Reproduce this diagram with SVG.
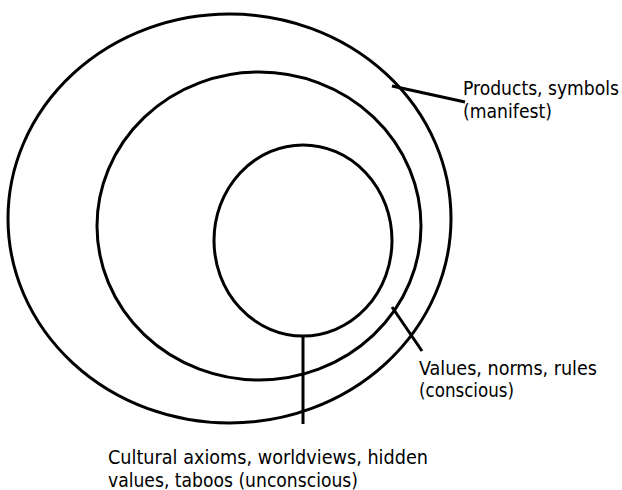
<svg xmlns="http://www.w3.org/2000/svg" width="622" height="490" viewBox="0 0 622 490">
<style>
.ring{fill:none;stroke:#000;stroke-width:3}
.conn{stroke:#000;stroke-width:3;fill:none}
.lbl{font-family:"DejaVu Sans Condensed","DejaVu Sans",sans-serif;font-size:19px;fill:#000}
</style>
<rect width="622" height="490" fill="#fff"/>
<g id="outer"><ellipse class="ring" cx="229.5" cy="218.5" rx="221.5" ry="204.5"/></g>
<g id="middle"><ellipse class="ring" cx="259" cy="226" rx="162" ry="154"/></g>
<g id="inner"><ellipse class="ring" cx="303" cy="240.5" rx="89" ry="95.5"/></g>
<g id="connectors">
<line class="conn" x1="392" y1="86" x2="465" y2="102"/>
<line class="conn" x1="392" y1="307" x2="422" y2="351"/>
<line class="conn" x1="303" y1="337" x2="303" y2="424"/>
</g>
<g id="label-products">
<text class="lbl" x="463" y="95" textLength="156" lengthAdjust="spacingAndGlyphs">Products, symbols</text>
<text class="lbl" x="463" y="118" textLength="89" lengthAdjust="spacingAndGlyphs">(manifest)</text>
</g>
<g id="label-values">
<text class="lbl" x="419" y="375" textLength="178" lengthAdjust="spacingAndGlyphs">Values, norms, rules</text>
<text class="lbl" x="419" y="397" textLength="95" lengthAdjust="spacingAndGlyphs">(conscious)</text>
</g>
<g id="label-cultural">
<text class="lbl" x="108" y="464" textLength="320" lengthAdjust="spacingAndGlyphs">Cultural axioms, worldviews, hidden</text>
<text class="lbl" x="108" y="487" textLength="250" lengthAdjust="spacingAndGlyphs">values, taboos (unconscious)</text>
</g>
</svg>
